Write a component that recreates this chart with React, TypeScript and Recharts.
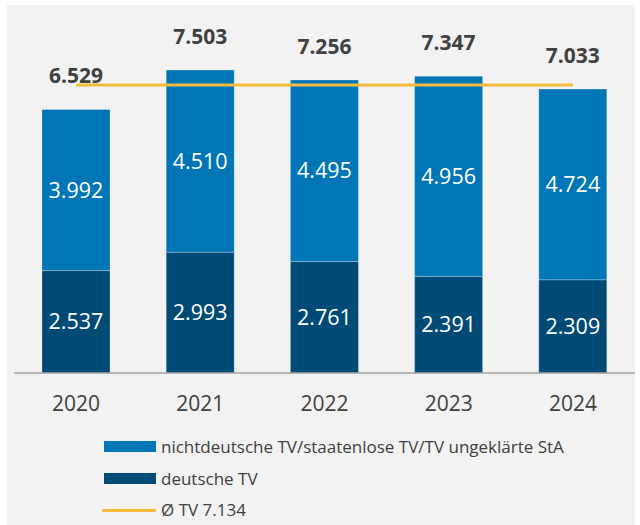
import React from 'react';
import { BarChart, Bar, XAxis, YAxis, LabelList, ReferenceLine } from 'recharts';

const years = ['2020', '2021', '2022', '2023', '2024'];
const deutscheTV = [2537, 2993, 2761, 2391, 2309];
const nichtdeutscheTV = [3992, 4510, 4495, 4956, 4724];
const totals = [6529, 7503, 7256, 7347, 7033];
const avgTV = 7134;

const legendLabels = ['nichtdeutsche TV/staatenlose TV/TV ungeklärte StA', 'deutsche TV', 'Ø TV 7.134'];

const COLOR_TOP = '#0076b6';
const COLOR_BOTTOM = '#004b75';
const COLOR_AVG = '#f5b93c';
const TEXT = '#404040';
const FONT = '"Open Sans", "Noto Sans", sans-serif';

const fmt = (v: number) => {
  const s = String(Math.round(v));
  return s.replace(/\B(?=(\d{3})+(?!\d))/g, '.');
};

const data = years.map((y, i) => ({
  year: y,
  deutsche: deutscheTV[i],
  nichtdeutsche: nichtdeutscheTV[i],
  total: totals[i],
}));

const TotalLabel = (props: any) => {
  const { x, y, width, index } = props;
  return (
    <text
      x={Number(x) + Number(width) / 2}
      y={Number(y) - 26}
      textAnchor="middle"
      fill={TEXT}
      fontSize={21}
      fontWeight={700}
      fontFamily={FONT}
    >
      {fmt(totals[index])}
    </text>
  );
};

export default function App() {
  return (
    <div style={{ position: 'absolute', left: 0, top: 0, width: 640, height: 525, background: '#ffffff', fontFamily: FONT }}>
      <div style={{ position: 'absolute', left: 7, top: 5, width: 628, height: 520, background: '#f2f2f2' }} />
      <div style={{ position: 'absolute', left: 0, top: 0 }}>
        <BarChart
          width={640}
          height={525}
          data={data}
          margin={{ top: 50, right: 5, left: 14, bottom: 122 }}
        >
          <XAxis
            dataKey="year"
            height={30}
            axisLine={{ stroke: '#a0a0a0', strokeWidth: 1.5 }}
            tickLine={false}
            tickSize={0}
            tickMargin={23}
            tick={{ fill: TEXT, fontSize: 21, fontFamily: FONT }}
          />
          <YAxis hide domain={[0, 8000]} />
          <Bar dataKey="deutsche" stackId="a" fill={COLOR_BOTTOM} stroke="rgba(255,255,255,0.25)" strokeWidth={1} barSize={68} isAnimationActive={false}>
            <LabelList
              dataKey="deutsche"
              position="center"
              formatter={(v: any) => fmt(Number(v))}
              fill="#ffffff"
              stroke="none"
              fontSize={21.5}
              fontFamily={FONT}
            />
          </Bar>
          <Bar dataKey="nichtdeutsche" stackId="a" fill={COLOR_TOP} stroke="rgba(255,255,255,0.25)" strokeWidth={1} barSize={68} isAnimationActive={false}>
            <LabelList
              dataKey="nichtdeutsche"
              position="center"
              formatter={(v: any) => fmt(Number(v))}
              fill="#ffffff"
              stroke="none"
              fontSize={21.5}
              fontFamily={FONT}
            />
            <LabelList dataKey="total" content={TotalLabel} />
          </Bar>
          <ReferenceLine
            segment={[{ x: years[0], y: avgTV }, { x: years[years.length - 1], y: avgTV }]}
            stroke={COLOR_AVG}
            strokeWidth={3}
          />
        </BarChart>
      </div>
      {/* Legend */}
      <div style={{ position: 'absolute', left: 104, top: 441, width: 52, height: 11, background: COLOR_TOP }} />
      <div style={{ position: 'absolute', left: 161, top: 435, fontSize: 17, color: TEXT, lineHeight: '23px', whiteSpace: 'nowrap' }}>{legendLabels[0]}</div>
      <div style={{ position: 'absolute', left: 104, top: 473, width: 52, height: 11, background: COLOR_BOTTOM }} />
      <div style={{ position: 'absolute', left: 161, top: 467, fontSize: 17, color: TEXT, lineHeight: '23px', whiteSpace: 'nowrap' }}>{legendLabels[1]}</div>
      <div style={{ position: 'absolute', left: 102, top: 508.5, width: 54, height: 3, background: COLOR_AVG }} />
      <div style={{ position: 'absolute', left: 161, top: 498, fontSize: 17, color: TEXT, lineHeight: '23px', whiteSpace: 'nowrap' }}>{legendLabels[2]}</div>
    </div>
  );
}
